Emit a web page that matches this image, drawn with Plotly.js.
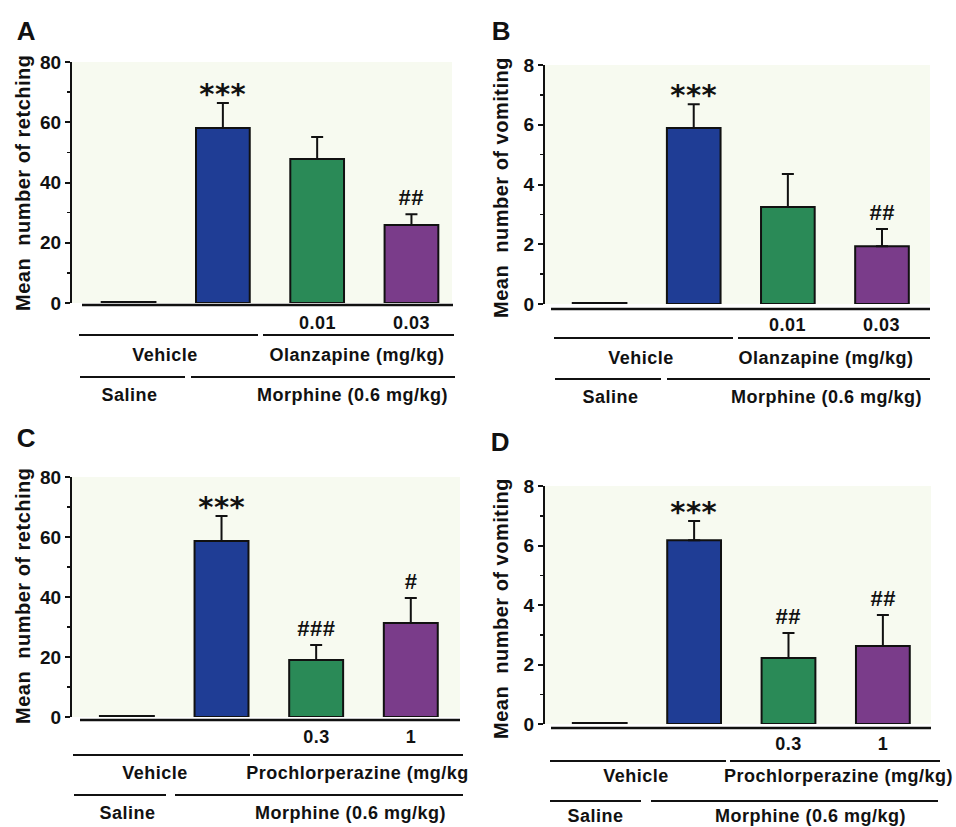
<!DOCTYPE html>
<html>
<head>
<meta charset="utf-8">
<script src="https://cdn.plot.ly/plotly-3.0.1.min.js"></script>
<style>
  html, body { margin: 0; padding: 0; background: #ffffff; }
  #chart { width: 956px; height: 827px; }
  #chart .annotation-text { letter-spacing: 0.5px; }
</style>
</head>
<body>
<div id="chart"></div>
<script>
// ---------------- DATA ----------------
const groups = ['Saline + Vehicle', 'Morphine + Vehicle', 'Morphine + Drug (low)', 'Morphine + Drug (high)'];
const doseOlanzapine = ['', '', '0.01', '0.03'];
const doseProchlorperazine = ['', '', '0.3', '1'];

// A: retching, olanzapine
const retchOlzMean = [0, 58.1, 47.8, 25.9];
const retchOlzSem  = [0, 8.3, 7.3, 3.6];
const retchOlzSig  = ['', '***', '', '##'];
// B: vomiting, olanzapine
const vomitOlzMean = [0, 5.89, 3.25, 1.93];
const vomitOlzSem  = [0, 0.80, 1.10, 0.58];
const vomitOlzSig  = ['', '***', '', '##'];
// C: retching, prochlorperazine
const retchPczMean = [0, 58.7, 19.0, 31.3];
const retchPczSem  = [0, 8.3, 5.0, 8.4];
const retchPczSig  = ['', '***', '###', '#'];
// D: vomiting, prochlorperazine
const vomitPczMean = [0, 6.18, 2.22, 2.62];
const vomitPczSem  = [0, 0.64, 0.84, 1.04];
const vomitPczSig  = ['', '***', '##', '##'];

const retchTicks = [0, 20, 40, 60, 80];
const vomitTicks = [0, 2, 4, 6, 8];

// ---------------- STYLE / LAYOUT ----------------
const W = 956, H = 827;
const FONT = 'Liberation Sans, Arial, Helvetica, sans-serif';
const barColors = ['#111111', '#1f3d95', '#2a8a57', '#7a3c8a'];
const px = x => x / W;
const py = y => 1 - y / H;

const panels = [
  { k: '',  letter: 'A', L: 72,  R: 452, T: 62,  B: 303, xr: [-0.6, 3.43],  ymax: 80, ticks: retchTicks, minor: 10,
    mean: retchOlzMean, sem: retchOlzSem, sig: retchOlzSig, dose: doseOlanzapine, drug: 'Olanzapine (mg/kg)',
    title: 'Mean\u00a0 number of retching', letterPos: [26, 31], titlePos: [23, 183],
    base: [305, 82, 453], doseY: 323, row1Y: 335, row1: [[79, 258], [263, 454]], lab1Y: 355, veh: 165, drg: 357, drgAnchor: 'center',
    row2Y: 377, row2: [[80, 185], [191, 455]], lab2Y: 395, sal: 129, mor: 352 },
  { k: '2', letter: 'B', L: 545, R: 930, T: 65,  B: 304, xr: [-0.58, 3.51], ymax: 8, ticks: vomitTicks, minor: 1,
    mean: vomitOlzMean, sem: vomitOlzSem, sig: vomitOlzSig, dose: doseOlanzapine, drug: 'Olanzapine (mg/kg)',
    title: 'Mean\u00a0 number of vomiting', letterPos: [502, 31], titlePos: [501, 187],
    base: [309, 551, 930], doseY: 325, row1Y: 338, row1: [[554, 733], [738, 930]], lab1Y: 358, veh: 641, drg: 826, drgAnchor: 'center',
    row2Y: 379, row2: [[555, 661], [667, 930]], lab2Y: 397, sal: 610, mor: 826 },
  { k: '3', letter: 'C', L: 72,  R: 460, T: 477, B: 717, xr: [-0.58, 3.52], ymax: 80, ticks: retchTicks, minor: 10,
    mean: retchPczMean, sem: retchPczSem, sig: retchPczSig, dose: doseProchlorperazine, drug: 'Prochlorperazine (mg/kg',
    title: 'Mean\u00a0 number of retching', letterPos: [26, 438], titlePos: [23, 596],
    base: [720, 80, 460], doseY: 737, row1Y: 755, row1: [[73, 250], [253, 463]], lab1Y: 773, veh: 155, drg: 250, drgAnchor: 'left',
    row2Y: 795, row2: [[74, 166], [175, 463]], lab2Y: 813, sal: 127, mor: 350 },
  { k: '4', letter: 'D', L: 545, R: 931, T: 486, B: 724, xr: [-0.58, 3.51], ymax: 8, ticks: vomitTicks, minor: 1,
    mean: vomitPczMean, sem: vomitPczSem, sig: vomitPczSig, dose: doseProchlorperazine, drug: 'Prochlorperazine (mg/kg)',
    title: 'Mean\u00a0 number of vomiting', letterPos: [501, 442], titlePos: [501, 608],
    base: [728, 551, 931], doseY: 744, row1Y: 761, row1: [[550, 726], [730, 940]], lab1Y: 776, veh: 636, drg: 838, drgAnchor: 'center',
    row2Y: 801, row2: [[550, 641], [651, 938]], lab2Y: 816, sal: 595, mor: 810 }
];

const traces = [];
const layout = {
  width: W, height: H,
  margin: { l: 0, r: 0, t: 0, b: 0 },
  paper_bgcolor: '#ffffff',
  plot_bgcolor: '#f7faf0',
  showlegend: false,
  font: { family: FONT, color: '#111111' },
  annotations: [],
  shapes: []
};

function textAnn(text, x, y, size, opts) {
  return Object.assign({
    text: '<b>' + text + '</b>', xref: 'paper', yref: 'paper', x: px(x), y: py(y),
    showarrow: false, xanchor: 'center', yanchor: 'middle',
    font: { family: FONT, size: size, color: '#111111' }
  }, opts || {});
}
function hLine(x0, x1, y, w) {
  return { type: 'line', xref: 'paper', yref: 'paper', x0: px(x0), x1: px(x1), y0: py(y), y1: py(y),
           line: { color: '#111111', width: w || 2 } };
}

panels.forEach(p => {
  const xa = 'x' + p.k, ya = 'y' + p.k;
  const minVisible = p.ymax * 0.004;
  traces.push({
    type: 'bar', x: groups, y: p.mean.map(v => Math.max(v, minVisible)),
    xaxis: xa, yaxis: ya, width: 0.57,
    marker: { color: barColors, line: { color: '#111111', width: 2 } },
    error_y: { type: 'data', array: p.sem, arrayminus: p.sem.map(() => 0), symmetric: false,
               color: '#111111', thickness: 2, width: 6 },
    hoverinfo: 'skip'
  });
  layout['xaxis' + p.k] = {
    domain: [px(p.L), px(p.R)], anchor: ya, type: 'category', range: p.xr,
    showline: false, showticklabels: false, ticks: '', showgrid: false, zeroline: false, fixedrange: true
  };
  layout['yaxis' + p.k] = {
    domain: [py(p.B), py(p.T)], anchor: xa, range: [0, p.ymax],
    tickvals: p.ticks, ticks: 'outside', ticklen: 5, tickwidth: 2, tickcolor: '#111111',
    minor: { ticks: 'outside', ticklen: 3, tickwidth: 1.5, dtick: p.minor, tickcolor: '#111111' },
    showline: true, linewidth: 2, linecolor: '#111111', showgrid: false, zeroline: false,
    tickfont: { family: FONT, size: 19, color: '#111111', weight: 'bold' }, fixedrange: true
  };
  // significance marks
  p.sig.forEach((s, i) => {
    if (!s) return;
    const star = s.indexOf('*') >= 0;
    layout.annotations.push({
      text: '<b>' + s + '</b>', xref: xa, yref: ya, x: groups[i], y: p.mean[i] + p.sem[i],
      showarrow: false, xanchor: 'center', yanchor: 'bottom', yshift: star ? -10 : 2,
      font: { family: star ? 'DejaVu Sans, sans-serif' : FONT, size: star ? 29 : 22, color: '#111111' }
    });
  });
  // dose labels under bars
  p.dose.forEach((d, i) => {
    if (!d) return;
    layout.annotations.push({
      text: '<b>' + d + '</b>', xref: xa, yref: 'paper', x: groups[i], y: py(p.doseY),
      showarrow: false, xanchor: 'center', yanchor: 'middle',
      font: { family: FONT, size: 18, color: '#111111' }
    });
  });
  // panel letter & y title
  layout.annotations.push(textAnn(p.letter, p.letterPos[0], p.letterPos[1], 26));
  layout.annotations.push(textAnn(p.title, p.titlePos[0], p.titlePos[1], 20, { textangle: -90 }));
  // group labels
  layout.annotations.push(textAnn('Vehicle', p.veh, p.lab1Y, 18));
  layout.annotations.push(textAnn(p.drug, p.drg, p.lab1Y, 18, { xanchor: p.drgAnchor }));
  layout.annotations.push(textAnn('Saline', p.sal, p.lab2Y, 18));
  layout.annotations.push(textAnn('Morphine (0.6 mg/kg)', p.mor, p.lab2Y, 18));
  // lines
  layout.shapes.push(hLine(p.base[1], p.base[2], p.base[0], 2.5));
  p.row1.forEach(r => layout.shapes.push(hLine(r[0], r[1], p.row1Y, 2)));
  p.row2.forEach(r => layout.shapes.push(hLine(r[0], r[1], p.row2Y, 2)));
});

Plotly.newPlot('chart', traces, layout, { staticPlot: true, displayModeBar: false });
</script>
</body>
</html>
